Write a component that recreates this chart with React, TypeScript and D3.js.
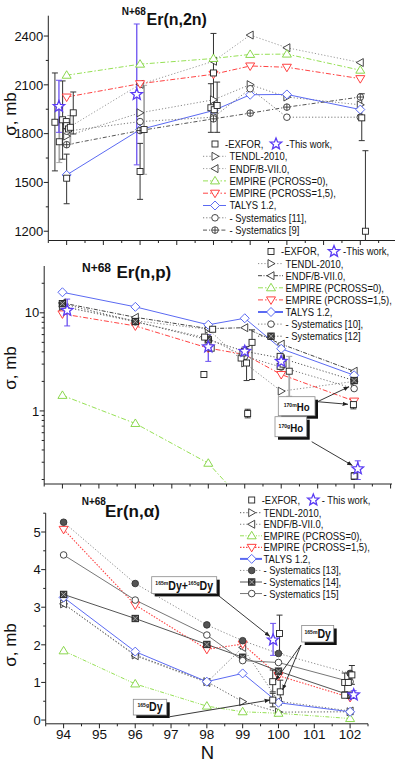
import React from 'react';
import * as d3 from 'd3';

const FONT = '"Liberation Sans", Arial, Helvetica, sans-serif';

// neutron number of the target
const N = [94, 96, 98, 99, 100, 102];
const xTickLabels = [94, 95, 96, 97, 98, 99, 100, 101, 102];

// ---- (n,2n), mb
const n2nTendl = [1785, 1928, 2008, 2101, 2025, 1977];
const n2nEndf = [1830, 2103, 2245, 2406, 2328, 2237];
const n2nEmp0 = [2159, 2227, 2262, 2287, 2289, 2190];
const n2nEmp15 = [2025, 2107, 2165, 2216, 2208, 2138];
const n2nTalys = [1546, 1825, 1942, 2039, 2041, 1948];
const n2nSys11 = [1815, 1874, 1901, 2076, 1901, 1901];
const n2nSys9 = [1732, 1819, 1891, 1926, 1963, 2025];
const n2nTicks = [1200, 1500, 1800, 2100, 2400];

// [N, value, low, high, gray]
type Pt = number[];
const n2nExfor: Pt[] = [
  [93.68, 1870, 1571, 2173],
  [93.8, 1750, 1622, 1942, 1],
  [93.89, 1885, 1643, 2124],
  [93.99, 1874],
  [94.0, 1849],
  [94.05, 1829],
  [94.1, 1839, 1736, 1911, 1],
  [94.0, 1526, 1369, 1674],
  [94.18, 1928, 1798, 2056],
  [96.0, 1567, 1396, 1740],
  [96.11, 1825, 1550, 2097, 1],
  [97.93, 1959, 1808, 2107],
  [98.0, 2173, 1942, 2416],
  [98.02, 1947],
  [98.1, 1973, 1808, 2117],
  [102.04, 1897, 1757, 2045],
  [102.14, 1200, 700, 1695],
];
const n2nWork: Pt[] = [
  [93.79, 1967, 1808, 2128],
  [95.91, 2041, 1608, 2474],
];

// ---- (n,p), mb
const npTendl = [11.6, 8.3, 6.8, 3.08, 1.59, 2.0];
const npEndf = [12.6, 9.0, 6.9, 7.05, 4.8, 2.54];
const npEmp0 = [1.44, 0.745, 0.293, 0.115];
const npEmp15 = [9.75, 7.35, 4.37, 3.75, 2.35, 1.26];
const npTalys = [16.2, 11.5, 7.55, 8.8, 4.3, 2.31];
const npSys10 = [11.6, 8.1, 5.5, 3.6, 2.8, 1.69];
const npSys12 = [12.4, 8.15, 5.3, 4.05, 3.45, 2.04];
const npTicks = [1, 10];
const npExfor: Pt[] = [
  [97.88, 2.35, 2.2, 2.5],
  [97.9, 5.66],
  [98.08, 4.36],
  [98.12, 6.8],
  [98.9, 3.46],
  [98.95, 3.9],
  [99.05, 3.08, 2.04, 4.54],
  [99.2, 5.0, 2.09, 6.7],
  [99.08, 0.94, 0.85, 1.04],
  [99.97, 3.6],
  [99.97, 2.85],
  [100.05, 3.0],
  [100.22, 2.54, 1.41, 3.6, 1],
  [101.98, 1.16, 1.05, 1.3],
  [102.0, 0.217, 0.2, 0.235],
];
const npWork: Pt[] = [
  [94.13, 10.6, 7.35, 13.8],
  [98.0, 4.5, 3.2, 5.98],
  [99.0, 4.05, 3.6, 4.5],
  [100.0, 3.2, 2.8, 3.6],
  [102.1, 0.257, 0.2, 0.31],
];

// ---- (n,alpha), mb
const naTendl = [3.09, 1.73, 1.02, 0.49, 0.21, 0.22];
const naEndf = [3.09, 1.71, 1.0, 1.93, 0.5, 0.24];
const naEmp0 = [1.84, 0.96, 0.37, 0.22, 0.18, 0.04];
const naEmp15 = [5.07, 3.06, 1.88, 2.02, 1.18, 0.6];
const naTalys = [3.26, 1.82, 1.02, 1.24, 0.46, 0.22];
const naSys13 = [5.26, 3.63, 2.53, 2.11, 1.77, 1.24];
const naSys14 = [3.34, 2.7, 2.01, 1.67, 1.3, 0.66];
const naSys15 = [4.39, 3.19, 2.26, 1.58, 1.53, 1.02];
const naTicks = [0, 1, 2, 3, 4, 5];
const naExfor: Pt[] = [
  [99.84, 1.02, 0.75, 1.33],
  [99.84, 0.53, 0.35, 0.71],
  [100.03, 2.3, 1.77, 2.79],
  [100.05, 0.75, 0.49, 1.06],
  [101.85, 1.0, 0.75, 1.25],
  [101.95, 1.0],
  [101.85, 0.66],
  [102.05, 1.2, 0.95, 1.45],
];
const naWork: Pt[] = [
  [99.85, 2.13, 1.72, 2.57],
  [102.1, 0.67, 0.58, 0.78],
];

type Mk = 'rtri' | 'ltri' | 'utri' | 'dtri' | 'dia' | 'circ' | 'pcirc' | 'fcirc' | 'xsq' | 'sq' | 'star';
interface Series { label: string; v: number[]; color: string; dash?: string; mk: Mk; mc: string; w?: number; lw?: number }

const GREEN = '#96e055';
const RED = '#ff4444';
const BLUE = '#5b6af2';
const STAR = '#5a3cf4';

function Mark({ t, x, y, c }: { t: Mk; x: number; y: number; c: string }) {
  const sw = 0.9;
  if (t === 'rtri') return <path d={`M${x + 4},${y}L${x - 3},${y - 4}L${x - 3},${y + 4}Z`} fill="#fff" stroke={c} strokeWidth={sw} />;
  if (t === 'ltri') return <path d={`M${x - 4},${y}L${x + 3},${y - 4}L${x + 3},${y + 4}Z`} fill="#fff" stroke={c} strokeWidth={sw} />;
  if (t === 'utri') return <path d={`M${x},${y - 4.5}L${x + 4.5},${y + 3}L${x - 4.5},${y + 3}Z`} fill="#fff" stroke={c} strokeWidth={sw} />;
  if (t === 'dtri') return <path d={`M${x},${y + 4.5}L${x + 4.5},${y - 3}L${x - 4.5},${y - 3}Z`} fill="#fff" stroke={c} strokeWidth={sw} />;
  if (t === 'dia') return <path d={`M${x},${y - 4.5}L${x + 4.5},${y}L${x},${y + 4.5}L${x - 4.5},${y}Z`} fill="#fff" stroke={c} strokeWidth={sw} />;
  if (t === 'circ') return <circle cx={x} cy={y} r={3.3} fill="#fff" stroke={c} strokeWidth={sw} />;
  if (t === 'pcirc')
    return (
      <g>
        <circle cx={x} cy={y} r={3.3} fill="#fff" stroke={c} strokeWidth={sw} />
        <path d={`M${x - 3.3},${y}H${x + 3.3}M${x},${y - 3.3}V${y + 3.3}`} stroke={c} strokeWidth={sw} />
      </g>
    );
  if (t === 'fcirc') return <circle cx={x} cy={y} r={3.3} fill="#555" stroke="#333" strokeWidth={sw} />;
  if (t === 'xsq')
    return (
      <g>
        <rect x={x - 3.2} y={y - 3.2} width={6.4} height={6.4} fill="#444" stroke="#222" strokeWidth={sw} />
        <path d={`M${x - 2.5},${y - 2.5}L${x + 2.5},${y + 2.5}M${x + 2.5},${y - 2.5}L${x - 2.5},${y + 2.5}`} stroke="#bbb" strokeWidth={0.8} />
      </g>
    );
  if (t === 'sq') return <rect x={x - 3} y={y - 3} width={6} height={6} fill="#fff" stroke="#222" strokeWidth={sw} />;
  const pts = d3.range(10).map(i => {
    const a = (-90 + i * 36) * Math.PI / 180;
    const r = i % 2 ? 2.6 : 6;
    return `${x + r * Math.cos(a)},${y + r * Math.sin(a)}`;
  });
  return <polygon points={pts.join(' ')} fill="#fff" stroke={c} strokeWidth={1.3} />;
}

function LText({ x, y, children }: { x: number; y: number; children: React.ReactNode }) {
  return (
    <text transform={`translate(${x},${y}) scale(0.86,1)`} fontSize={11} dy="0.36em" fill="#111">
      {children}
    </text>
  );
}

interface Legend { row1: number; rows: number[]; lx0: number; lx1: number; mx: number; tx: number; star: number; workX: number; exX: number; work: string }

interface PanelCfg {
  id: string;
  x: d3.ScaleLinear<number, number>;
  y: any;
  axisEnd: number;
  series: Series[];
  exfor: Pt[];
  work: Pt[];
  ticks: number[];
  minor: number[];
  xLabels: boolean;
  title: { sx: number; sy: number; sfs: number; mx: number; my: number; main: string; fs: number };
  ylab: { x: number; y: number };
  legend: Legend;
}

function Panel({ p }: { p: PanelCfg }) {
  const { x, y } = p;
  const x0 = x.range()[0];
  const [yb, yt] = y.range();
  const line = d3.line<number[]>().x(d => x(d[0])).y(d => y(d[1]));
  const xMaj = d3.range(94, x.domain()[1] + 0.01, 1);
  const xMin = d3.range(93.5, x.domain()[1] + 0.01, 0.5).filter(v => !Number.isInteger(v));
  const bar = (pt: Pt, color: string, w: number, key: string) => {
    if (pt.length < 4) return null;
    const cx = x(pt[0]);
    return (
      <g key={key} stroke={color} strokeWidth={w}>
        <line x1={cx} x2={cx} y1={y(pt[2])} y2={y(pt[3])} />
        <line x1={cx - 3} x2={cx + 3} y1={y(pt[2])} y2={y(pt[2])} strokeWidth={1} />
        <line x1={cx - 3} x2={cx + 3} y1={y(pt[3])} y2={y(pt[3])} strokeWidth={1} />
      </g>
    );
  };
  const L = p.legend;
  return (
    <g>
      <defs>
        <clipPath id={p.id}>
          <rect x={x0} y={yt} width={p.axisEnd - x0} height={yb - yt} />
        </clipPath>
      </defs>
      {/* axes */}
      <g stroke="#222" strokeWidth={1} fill="none">
        <line x1={x0} x2={x0} y1={yt} y2={yb} />
        <line x1={x0} x2={p.axisEnd} y1={yb} y2={yb} />
        {xMaj.map(v => <line key={'xM' + v} x1={x(v)} x2={x(v)} y1={yb} y2={yb + 4.5} />)}
        {xMin.map(v => <line key={'xm' + v} x1={x(v)} x2={x(v)} y1={yb} y2={yb + 2.5} />)}
        {p.ticks.map(v => <line key={'yM' + v} x1={x0 - 4.5} x2={x0} y1={y(v)} y2={y(v)} />)}
        {p.minor.map(v => <line key={'ym' + v} x1={x0 - 2.5} x2={x0} y1={y(v)} y2={y(v)} />)}
      </g>
      {p.ticks.map(v => (
        <text key={'yl' + v} x={x0 - 5} y={y(v)} dy="0.36em" textAnchor="end" fontSize={13} fill="#111">
          {v}
        </text>
      ))}
      {p.xLabels &&
        xTickLabels.map(v => (
          <text key={'xl' + v} x={x(v)} y={yb + 15} textAnchor="middle" fontSize={13.5} fill="#111">
            {v}
          </text>
        ))}
      <text transform={`translate(${p.ylab.x},${p.ylab.y}) rotate(-90)`} textAnchor="middle" fontSize={17} fill="#111">
        σ, mb
      </text>
      <text x={p.title.sx} y={p.title.sy} fontSize={p.title.sfs} fontWeight="bold" fill="#111">N+68</text>
      <text x={p.title.mx} y={p.title.my} fontSize={p.title.fs} fontWeight="bold" fill="#111">{p.title.main}</text>

      <g clipPath={`url(#${p.id})`}>
        {p.series.map((s, i) => (
          <path
            key={'l' + i}
            d={line(s.v.map((v, j) => [N[j], v])) || ''}
            fill="none"
            stroke={s.color}
            strokeWidth={s.w || 1}
            strokeDasharray={s.dash}
          />
        ))}
        {p.exfor.map((pt, i) => bar(pt, pt[4] ? '#a8a8a8' : '#333', pt[4] ? 1.8 : 1, 'eb' + i))}
        {p.work.map((pt, i) => bar(pt, '#6a50f0', 1.3, 'wb' + i))}
        {p.series.map((s, i) => (
          <g key={'m' + i}>
            {s.v.map((v, j) => <Mark key={j} t={s.mk} x={x(N[j])} y={y(v)} c={s.mc} />)}
          </g>
        ))}
        {p.exfor.map((pt, i) => <Mark key={'e' + i} t="sq" x={x(pt[0])} y={y(pt[1])} c="#222" />)}
        {p.work.map((pt, i) => <Mark key={'w' + i} t="star" x={x(pt[0])} y={y(pt[1])} c={STAR} />)}
      </g>

      {/* legend */}
      <Mark t="sq" x={L.mx} y={L.row1} c="#222" />
      <LText x={L.exX} y={L.row1}>-EXFOR,</LText>
      <Mark t="star" x={L.star} y={L.row1} c={STAR} />
      <LText x={L.workX} y={L.row1}>{L.work}</LText>
      {p.series.map((s, i) => (
        <g key={'lg' + i}>
          <line x1={L.lx0} x2={L.lx1} y1={L.rows[i]} y2={L.rows[i]} stroke={s.color} strokeWidth={s.lw || s.w || 1} strokeDasharray={s.dash} />
          <Mark t={s.mk} x={L.mx} y={L.rows[i]} c={s.mc} />
          <LText x={L.tx} y={L.rows[i]}>{s.label}</LText>
        </g>
      ))}
    </g>
  );
}

// parts: [text, isSuperscript]
function Tag({ x, y, w, h, fs, parts }: { x: number; y: number; w: number; h: number; fs: number; parts: [string, boolean][] }) {
  return (
    <g>
      <rect x={x + 3} y={y + 3} width={w} height={h} fill="#111" />
      <rect x={x} y={y} width={w} height={h} fill="#fff" stroke="#8a8a8a" strokeWidth={0.8} />
      <text
        transform={`translate(${x + w / 2},${y + h * 0.77}) scale(0.88,1)`}
        textAnchor="middle"
        fontWeight="bold"
        fill="#111"
      >
        {parts.map(([t, sup], i) => (
          <tspan key={i} fontSize={sup ? 5.8 : fs} dy={sup ? -4.5 : 4.5}>
            {t}
          </tspan>
        ))}
      </text>
    </g>
  );
}

function Arrow({ x1, y1, x2, y2 }: { x1: number; y1: number; x2: number; y2: number }) {
  return <line x1={x1} y1={y1} x2={x2} y2={y2} stroke="#222" strokeWidth={0.9} markerEnd="url(#ah)" />;
}

export default function App() {
  const dot = '1.2,2';
  const dd = '5,2,1.5,2';

  const p1: PanelCfg = {
    id: 'c1',
    x: d3.scaleLinear().domain([93.5, 103]).range([48.3, 397]),
    y: d3.scaleLinear().domain([1143, 2525]).range([240.5, 15.7]),
    axisEnd: 395,
    series: [
      { label: 'TENDL-2010,', v: n2nTendl, color: '#8a8a8a', dash: dot, mk: 'rtri', mc: '#333' },
      { label: 'ENDF/B-VII.0,', v: n2nEndf, color: '#9a9a9a', dash: dot, mk: 'ltri', mc: '#333' },
      { label: 'EMPIRE (PCROSS=0),', v: n2nEmp0, color: GREEN, dash: dd, mk: 'utri', mc: '#7fd23c' },
      { label: 'EMPIRE (PCROSS=1,5),', v: n2nEmp15, color: RED, dash: dd, mk: 'dtri', mc: '#ff2a2a' },
      { label: 'TALYS 1.2,', v: n2nTalys, color: BLUE, mk: 'dia', mc: '#4a5af0' },
      { label: '- Systematics [11],', v: n2nSys11, color: '#777', dash: dot, mk: 'circ', mc: '#333' },
      { label: '- Systematics [9]', v: n2nSys9, color: '#555', dash: '4,2,1.2,2', mk: 'pcirc', mc: '#333' },
    ],
    exfor: n2nExfor,
    work: n2nWork,
    ticks: n2nTicks,
    minor: [1350, 1650, 1950, 2250],
    xLabels: false,
    title: { sx: 121.7, sy: 15, sfs: 10, mx: 146.5, my: 25, main: 'Er(n,2n)', fs: 16 },
    ylab: { x: 16, y: 114 },
    legend: {
      row1: 144, rows: d3.range(7).map(i => 156.3 + i * 12.3),
      lx0: 203, lx1: 226, mx: 215, tx: 229.5, exX: 225, star: 276, workX: 286, work: '-This work,',
    },
  };

  const p2: PanelCfg = {
    id: 'c2',
    x: d3.scaleLinear().domain([93.5, 103]).range([44.2, 390.6]),
    y: d3.scaleLog().domain([0.18, 30]).range([484, 266]),
    axisEnd: 392,
    series: [
      { label: 'TENDL-2010,', v: npTendl, color: '#8a8a8a', dash: dot, mk: 'rtri', mc: '#333' },
      { label: 'ENDF/B-VII.0,', v: npEndf, color: '#444', dash: '4,1.5,1,1.5', mk: 'ltri', mc: '#333' },
      { label: 'EMPIRE (PCROSS=0),', v: npEmp0, color: GREEN, dash: dd, mk: 'utri', mc: '#7fd23c' },
      { label: 'EMPIRE (PCROSS=1,5),', v: npEmp15, color: RED, dash: dd, mk: 'dtri', mc: '#ff2a2a' },
      { label: 'TALYS 1.2,', v: npTalys, color: BLUE, mk: 'dia', mc: '#4a5af0', lw: 2 },
      { label: '- Systematics [10],', v: npSys10, color: '#777', dash: dot, mk: 'circ', mc: '#333' },
      { label: '- Systematics [12]', v: npSys12, color: '#555', dash: dot, mk: 'xsq', mc: '#333' },
    ],
    exfor: npExfor,
    work: npWork,
    ticks: npTicks,
    minor: [0.2, 0.3, 0.4, 0.5, 0.6, 0.7, 0.8, 0.9, 2, 3, 4, 5, 6, 7, 8, 9, 20],
    xLabels: false,
    title: { sx: 82, sy: 271.5, sfs: 12, mx: 116.5, my: 278.3, main: 'Er(n,p)', fs: 17 },
    ylab: { x: 16, y: 368 },
    legend: {
      row1: 251.5, rows: d3.range(7).map(i => 263.6 + i * 12.1),
      lx0: 258, lx1: 283, mx: 271, tx: 285.5, exX: 281, star: 334, workX: 343, work: '-This work,',
    },
  };

  const p3: PanelCfg = {
    id: 'c3',
    x: d3.scaleLinear().domain([93.5, 102.5]).range([45.7, 368]),
    y: d3.scaleLinear().domain([-0.1, 5.5]).range([723.8, 513.2]),
    axisEnd: 368,
    series: [
      { label: 'TENDL-2010,', v: naTendl, color: '#555', dash: dot, mk: 'rtri', mc: '#333' },
      { label: 'ENDF/B-VII.0,', v: naEndf, color: '#777', dash: dot, mk: 'ltri', mc: '#333' },
      { label: 'EMPIRE (PCROSS=0),', v: naEmp0, color: GREEN, dash: '4,1.5,1,1.5,1,1.5', mk: 'utri', mc: '#7fd23c' },
      { label: 'EMPIRE (PCROSS=1,5),', v: naEmp15, color: RED, dash: '1.5,1.5', mk: 'dtri', mc: '#ff2a2a', w: 1.1 },
      { label: 'TALYS 1.2,', v: naTalys, color: BLUE, mk: 'dia', mc: '#4a5af0', lw: 2 },
      { label: '- Systematics [13],', v: naSys13, color: '#888', dash: dot, mk: 'fcirc', mc: '#333' },
      { label: '- Systematics [14],', v: naSys14, color: '#555', mk: 'xsq', mc: '#333' },
      { label: '- Systematics [15]', v: naSys15, color: '#777', mk: 'circ', mc: '#333' },
    ],
    exfor: naExfor,
    work: naWork,
    ticks: naTicks,
    minor: [0.5, 1.5, 2.5, 3.5, 4.5, 5.5],
    xLabels: true,
    title: { sx: 81.7, sy: 505, sfs: 10, mx: 105, my: 516.5, main: 'Er(n,α)', fs: 17 },
    ylab: { x: 16, y: 645 },
    legend: {
      row1: 500, rows: d3.range(8).map(i => 512.7 + i * 11.55),
      lx0: 240, lx1: 262, mx: 251.7, tx: 263.5, exX: 261.7, star: 313.3, workX: 321.7, work: '- This work,',
    },
  };

  return (
    <div style={{ position: 'absolute', left: 0, top: 0 }}>
      <svg width={395} height={765} style={{ display: 'block', fontFamily: FONT, background: '#fff' }}>
        <defs>
          <marker id="ah" viewBox="0 0 10 10" refX="10" refY="5" markerWidth="6" markerHeight="6" orient="auto">
            <path d="M0,1L10,5L0,9Z" fill="#222" />
          </marker>
        </defs>
        <Panel p={p1} />
        <Panel p={p2} />
        <Panel p={p3} />

        {/* (n,p) isomer tags */}
        <Tag x={278.3} y={396.7} w={36.7} h={19} fs={11} parts={[['170m', true], ['Ho', false]]} />
        <Arrow x1={317.5} y1={401.7} x2={349} y2={386.7} />
        <Arrow x1={317.5} y1={401.7} x2={348} y2={404.3} />
        <Tag x={275} y={416.7} w={31.7} h={20} fs={11} parts={[['170g', true], ['Ho', false]]} />
        <Arrow x1={311.7} y1={441.7} x2={352.5} y2={465.5} />

        {/* (n,alpha) isomer tags */}
        <Tag x={151.7} y={576.7} w={65} h={16.7} fs={12} parts={[['165m', true], ['Dy+', false], ['165g', true], ['Dy', false]]} />
        <Arrow x1={219} y1={596} x2={270} y2={636.5} />
        <Tag x={301.7} y={625.5} w={32} h={16.5} fs={12} parts={[['165m', true], ['Dy', false]]} />
        <Arrow x1={301} y1={645} x2={275.5} y2={680.5} />
        <Arrow x1={301} y1={645} x2={282.5} y2={690} />
        <Tag x={133.3} y={699.3} w={33.4} h={15.7} fs={12} parts={[['165g', true], ['Dy', false]]} />
        <Arrow x1={170} y1={716.7} x2={270} y2={700} />

        <text x={207.5} y={759} textAnchor="middle" fontSize={18.5} fill="#111">N</text>
      </svg>
    </div>
  );
}
